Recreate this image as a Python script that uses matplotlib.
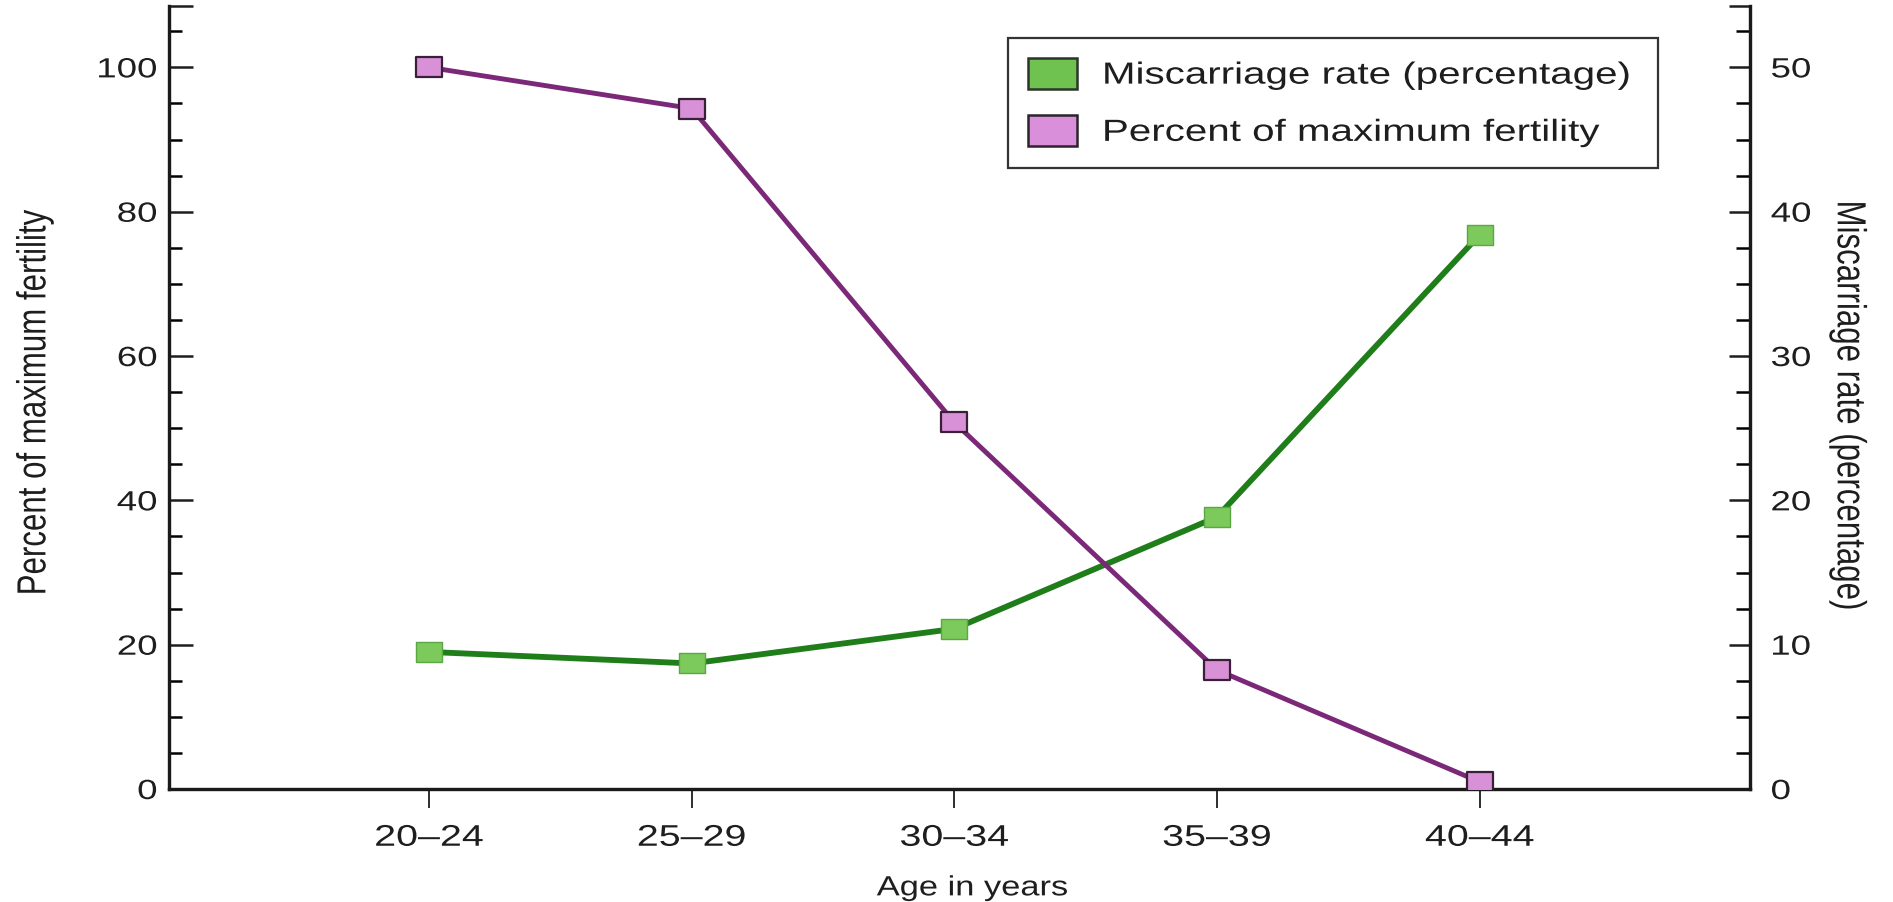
import matplotlib
matplotlib.use("Agg")
import matplotlib.pyplot as plt
from matplotlib.patches import Patch
from matplotlib.ticker import MultipleLocator
from matplotlib.patheffects import AbstractPathEffect
from matplotlib.transforms import Affine2D
from matplotlib.path import Path

age_groups = ["20\u201324", "25\u201329", "30\u201334", "35\u201339", "40\u201344"]
fertility_pct = [100, 94.3, 50.8, 16.5, 1.0]
miscarriage_pct = [9.5, 8.7, 11.1, 18.85, 38.4]

plt.rcParams['font.family'] = ['Liberation Sans', 'DejaVu Sans']
TXT = '#1e1e1e'


class Stretch(AbstractPathEffect):
    """Draw text glyphs horizontally widened (the scanned original is wide)."""
    def __init__(self, sx=1.0, sy=1.0, anchor='center'):
        super().__init__()
        self.sx, self.sy, self.anchor = sx, sy, anchor

    def draw_path(self, renderer, gc, tpath, affine, rgbFace=None):
        ext = tpath.get_extents()
        if self.anchor == 'left':
            cx = ext.x0
        elif self.anchor == 'right':
            cx = ext.x1
        else:
            cx = 0.5 * (ext.x0 + ext.x1)
        cy = 0.5 * (ext.y0 + ext.y1)
        t = Affine2D().translate(-cx, -cy).scale(self.sx, self.sy).translate(cx, cy)
        renderer.draw_path(gc, tpath, t + affine, rgbFace)


SX = 1.32
# wide square marker (scan is horizontally stretched)
wide_square = Path([(-1.0, -0.74), (1.0, -0.74), (1.0, 0.74), (-1.0, 0.74), (-1.0, -0.74)],
                   [Path.MOVETO, Path.LINETO, Path.LINETO, Path.LINETO, Path.CLOSEPOLY])

fig = plt.figure(figsize=(18.93, 9.03), dpi=100)
ax = fig.add_axes([0.0893, 0.1251, 0.8352, 0.8671])
ax2 = ax.twinx()

yellow = '#fdfbc9'
ax2.patch.set_facecolor(yellow)
ax.patch.set_visible(False)
ax.set_zorder(ax2.get_zorder() + 1)

x = list(range(len(age_groups)))

ax2.plot(x, miscarriage_pct, color='#1f7d1a', lw=4.2, marker=wide_square, ms=19,
         mfc='#7cc95c', mec='#5aa845', mew=1.0, zorder=3)
ax.plot(x, fertility_pct, color='#7b2878', lw=3.5, marker=wide_square, ms=19,
        mfc='#d890d6', mec='#3a1f38', mew=1.6, zorder=3)

ax.set_xlim(-0.99, 5.03)
ax.set_ylim(0, 108.5)
ax2.set_ylim(0, 54.25)

ax.set_xticks(x)
ax.set_xticklabels(age_groups)
left_major = [0, 20, 40, 60, 80, 100]
right_major = [0, 10, 20, 30, 40, 50]
ax.set_yticks(left_major + [ax.get_ylim()[1]],
              labels=[str(v) for v in left_major] + [''])
ax.yaxis.set_minor_locator(MultipleLocator(5))
ax2.set_yticks(right_major + [ax2.get_ylim()[1]],
               labels=[str(v) for v in right_major] + [''])
ax2.yaxis.set_minor_locator(MultipleLocator(2.5))

for a in (ax, ax2):
    a.spines['top'].set_visible(False)
    for s in ('left', 'right', 'bottom'):
        a.spines[s].set_linewidth(2.3)
        a.spines[s].set_color('#1a1a1a')

ax.tick_params(axis='x', direction='out', length=14, width=1.3, pad=11,
               labelsize=21.5, colors=TXT)
ax.tick_params(axis='y', which='major', direction='in', length=17, width=1.8,
               pad=8.5, labelsize=20, colors=TXT)
ax.tick_params(axis='y', which='minor', direction='in', length=9, width=1.8)
ax2.tick_params(axis='y', which='major', direction='in', length=15, width=1.8,
                pad=15, labelsize=20, colors=TXT)
ax2.tick_params(axis='y', which='minor', direction='in', length=10, width=1.8)

ax.set_xlabel("Age in years", fontsize=20, color=TXT, labelpad=17)
ax.xaxis.label.set_x(0.508)
ax.set_ylabel("Percent of maximum fertility", fontsize=22.5, color=TXT)
ax2.set_ylabel("Miscarriage rate (percentage)", fontsize=22.5, color=TXT, rotation=270)
ax.yaxis.set_label_coords(-0.0848, 0.494)
ax2.yaxis.set_label_coords(1.062, 0.489)
for lab in (ax.yaxis.label, ax2.yaxis.label):
    lab.set_va('center')
    lab.set_ha('center')
    lab.set_path_effects([Stretch(1.0, 1.3, 'center')])
ax.xaxis.label.set_path_effects([Stretch(1.24, 1.0, 'center')])

handles = [Patch(facecolor='#6fc24f', edgecolor='#2b352b', lw=1.8),
           Patch(facecolor='#d98fd9', edgecolor='#2b252b', lw=1.8)]
labels = ["Miscarriage rate (percentage)", "Percent of maximum fertility"]
leg = ax.legend(handles, labels, loc='upper left',
                bbox_to_anchor=(1008 / 1893, 1 - 48 / 903, 650 / 1893, 0.01),
                bbox_transform=fig.transFigure, mode='expand', borderaxespad=0,
                fontsize=22, frameon=True, fancybox=False,
                handlelength=1.6, handleheight=1.18, handletextpad=0.85,
                borderpad=0.65, labelspacing=0.8)
leg.get_frame().set_edgecolor('#333333')
leg.get_frame().set_linewidth(1.6)
leg.get_frame().set_facecolor('white')
leg.get_frame().set_alpha(1)
for t in leg.get_texts():
    t.set_color(TXT)
    t.set_path_effects([Stretch(1.32, 1.0, 'left')])

for lbl in ax.get_xticklabels():
    lbl.set_path_effects([Stretch(SX, 1.0, 'center')])
for lbl in ax.get_yticklabels():
    lbl.set_path_effects([Stretch(SX, 1.0, 'right')])
for lbl in ax2.get_yticklabels():
    lbl.set_path_effects([Stretch(SX, 1.0, 'left')])

fig.savefig("out.png", dpi=100, facecolor='white')
